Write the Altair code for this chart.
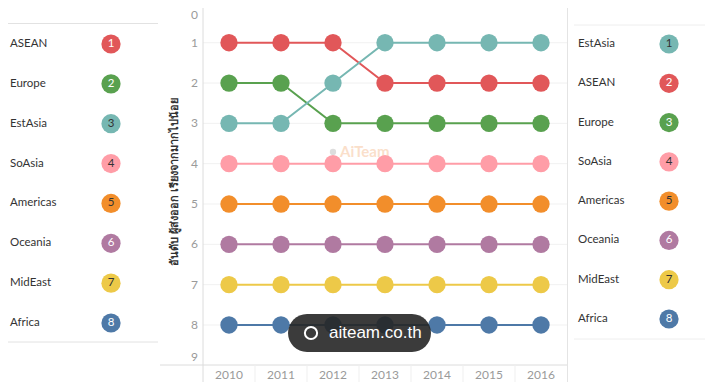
import altair as alt
import pandas as pd

OFF = 8  # page margin: reference pixel -> chart pixel

regions = ["ASEAN", "Europe", "EstAsia", "SoAsia", "Americas", "Oceania", "MidEast", "Africa"]
colors = ["#e15759", "#59a14f", "#76b7b2", "#ff9da7", "#f28e2b", "#b07aa1", "#edc948", "#4e79a7"]
num_colors = ["white", "white", "#333333", "#333333", "#333333", "white", "#333333", "white"]
years = [2010, 2011, 2012, 2013, 2014, 2015, 2016]

asean = [1, 1, 1, 2, 2, 2, 2]
europe = [2, 2, 3, 3, 3, 3, 3]
estasia = [3, 3, 2, 1, 1, 1, 1]
soasia = [4, 4, 4, 4, 4, 4, 4]
americas = [5, 5, 5, 5, 5, 5, 5]
oceania = [6, 6, 6, 6, 6, 6, 6]
mideast = [7, 7, 7, 7, 7, 7, 7]
africa = [8, 8, 8, 8, 8, 8, 8]
series = [asean, europe, estasia, soasia, americas, oceania, mideast, africa]

y_ticks = [0, 1, 2, 3, 4, 5, 6, 7, 8, 9]
y_title = "อันดับ ผู้ส่งออก เรียงจากมากไปน้อย"

FONT = "Lato"

rows = []
for r, vals in zip(regions, series):
    for yr, v in zip(years, vals):
        rows.append({"region": r, "year": yr, "rank": v})
long = pd.DataFrame(rows)

nmap = dict(zip(regions, num_colors))
left_df = pd.DataFrame({"region": regions, "rank": [s[0] for s in series]})
right_df = pd.DataFrame({"region": regions, "rank": [s[-1] for s in series]})
for d in (left_df, right_df):
    d["num_color"] = d["region"].map(nmap)

color_scale = alt.Scale(domain=regions, range=colors)

x_main = alt.Scale(type="point", domain=years, range=[203 - OFF, 567 - OFF], padding=0.5)
x_band = alt.Scale(type="band", domain=years, range=[203 - OFF, 567 - OFF], paddingInner=0, paddingOuter=0)
y_main = alt.Scale(domain=[0, 9], range=[2.4 - OFF, 365.3 - OFF])
y_left = alt.Scale(domain=[1, 8], range=[44 - OFF, 323 - OFF])
y_right = alt.Scale(domain=[1, 8], range=[44 - OFF, 319 - OFF])

one = pd.DataFrame({"a": [0]})


def rule(x1, x2, y1, y2, color, width=1):
    enc = dict(x=alt.value(x1 - OFF), y=alt.value(y1 - OFF))
    if x2 is not None:
        enc["x2"] = alt.value(x2 - OFF)
    if y2 is not None:
        enc["y2"] = alt.value(y2 - OFF)
    return alt.Chart(one).mark_rule(color=color, strokeWidth=width).encode(**enc)


layers = []

# gridlines of the main panel
tick_df = pd.DataFrame({"t": y_ticks})
layers.append(
    alt.Chart(tick_df).transform_filter("datum.t >= 1 && datum.t <= 8")
    .mark_rule(color="#f1f1f1", strokeWidth=1)
    .encode(y=alt.Y("t:Q", scale=y_main, axis=None), x=alt.value(203 - OFF), x2=alt.value(567 - OFF))
)
# frame lines
layers.append(rule(203, None, 0, 390, "#dcdcdc"))
layers.append(rule(567.5, None, 0, 383, "#e4e4e4"))
layers.append(rule(160, 567, 365, None, "#dcdcdc"))
# year column separators in header
year_df = pd.DataFrame({"year": years})
layers.append(
    alt.Chart(year_df).transform_filter("datum.year > 2010")
    .mark_rule(color="#efefef", strokeWidth=1)
    .encode(x=alt.X("year:O", scale=x_band, axis=None, bandPosition=0),
            y=alt.value(365 - OFF), y2=alt.value(384 - OFF))
)
# left/right panel separators
layers.append(rule(6, 158, 23.5, None, "#e2e2e2"))
layers.append(rule(6, 158, 342, None, "#e2e2e2"))
layers.append(rule(574, 706, 25, None, "#eeeeee"))
layers.append(rule(574, 706, 339, None, "#eeeeee"))

# faint AiTeam watermark
layers.append(
    alt.Chart(one).mark_text(text="AiTeam", font=FONT, fontSize=15, fontWeight="bold",
                             color="#f6b98c", opacity=0.45, align="left", baseline="middle")
    .encode(x=alt.value(340 - OFF), y=alt.value(152 - OFF))
)
layers.append(
    alt.Chart(one).mark_point(shape="circle", filled=True, size=40, color="#bbbbbb", opacity=0.5)
    .encode(x=alt.value(333 - OFF), y=alt.value(152 - OFF))
)

# y tick labels (first label kept inside the top edge, last one lifted like a flush label)
for cond, dy, base in [("datum.t >= 1 && datum.t <= 8", 0, "middle"),
                       ("datum.t == 0", 8, "top"),
                       ("datum.t == 9", -8, "middle")]:
    layers.append(
        alt.Chart(tick_df).transform_filter(cond)
        .mark_text(font=FONT, fontSize=12, color="#9a9a9a", align="right", baseline=base, dy=dy)
        .encode(y=alt.Y("t:Q", scale=y_main, axis=None), x=alt.value(198 - OFF), text="t:Q")
    )
# x labels
layers.append(
    alt.Chart(year_df).mark_text(font=FONT, fontSize=12, color="#9a9a9a", baseline="middle")
    .encode(x=alt.X("year:O", scale=x_main, axis=None), y=alt.value(375 - OFF), text="year:O")
)
# y title
layers.append(
    alt.Chart(pd.DataFrame({"t": [y_title]}))
    .mark_text(angle=270, font=FONT, fontSize=11, fontWeight="bold", color="#333333",
               align="center", baseline="middle")
    .encode(x=alt.value(175 - OFF), y=alt.value(182 - OFF), text="t:N")
)

# bump lines and points
layers.append(
    alt.Chart(long).mark_line(strokeWidth=2)
    .encode(x=alt.X("year:O", scale=x_main, axis=None),
            y=alt.Y("rank:Q", scale=y_main, axis=None),
            color=alt.Color("region:N", scale=color_scale, legend=None),
            detail="region:N")
)
layers.append(
    alt.Chart(long).mark_circle(size=300, opacity=1)
    .encode(x=alt.X("year:O", scale=x_main, axis=None),
            y=alt.Y("rank:Q", scale=y_main, axis=None),
            color=alt.Color("region:N", scale=color_scale, legend=None))
)

# side legends
for df, ys, xl, xc in [(left_df, y_left, 10, 111), (right_df, y_right, 578, 669)]:
    layers.append(
        alt.Chart(df).mark_text(font=FONT, fontSize=11.5, color="#333333", align="left", baseline="middle")
        .encode(x=alt.value(xl - OFF), y=alt.Y("rank:Q", scale=ys, axis=None), text="region:N")
    )
    layers.append(
        alt.Chart(df).mark_circle(size=370, opacity=1)
        .encode(x=alt.value(xc - OFF), y=alt.Y("rank:Q", scale=ys, axis=None),
                color=alt.Color("region:N", scale=color_scale, legend=None))
    )
    layers.append(
        alt.Chart(df).mark_text(font=FONT, fontSize=11.5, align="center", baseline="middle")
        .encode(x=alt.value(xc - OFF), y=alt.Y("rank:Q", scale=ys, axis=None), text="rank:Q",
                color=alt.Color("num_color:N", scale=None))
    )

# site badge overlay
layers.append(
    alt.Chart(one).mark_rect(cornerRadius=19, color="#262626", opacity=0.9)
    .encode(x=alt.value(288 - OFF), x2=alt.value(431 - OFF), y=alt.value(314 - OFF), y2=alt.value(352 - OFF))
)
layers.append(
    alt.Chart(one).mark_point(shape="circle", filled=False, size=150, color="white", strokeWidth=2, opacity=1)
    .encode(x=alt.value(311 - OFF), y=alt.value(333 - OFF))
)
layers.append(
    alt.Chart(one).mark_text(text="aiteam.co.th", font="Liberation Sans", fontSize=17, color="white",
                             align="left", baseline="middle")
    .encode(x=alt.value(329 - OFF), y=alt.value(333 - OFF))
)

chart = (
    alt.layer(*layers)
    .resolve_scale(x="independent", y="independent", color="independent")
    .properties(width=697, height=374, autosize=alt.AutoSizeParams(type="none"), padding=0)
    .configure_view(stroke=None)
)

chart.save("out.html", embed_options={"renderer": "svg", "actions": False})
